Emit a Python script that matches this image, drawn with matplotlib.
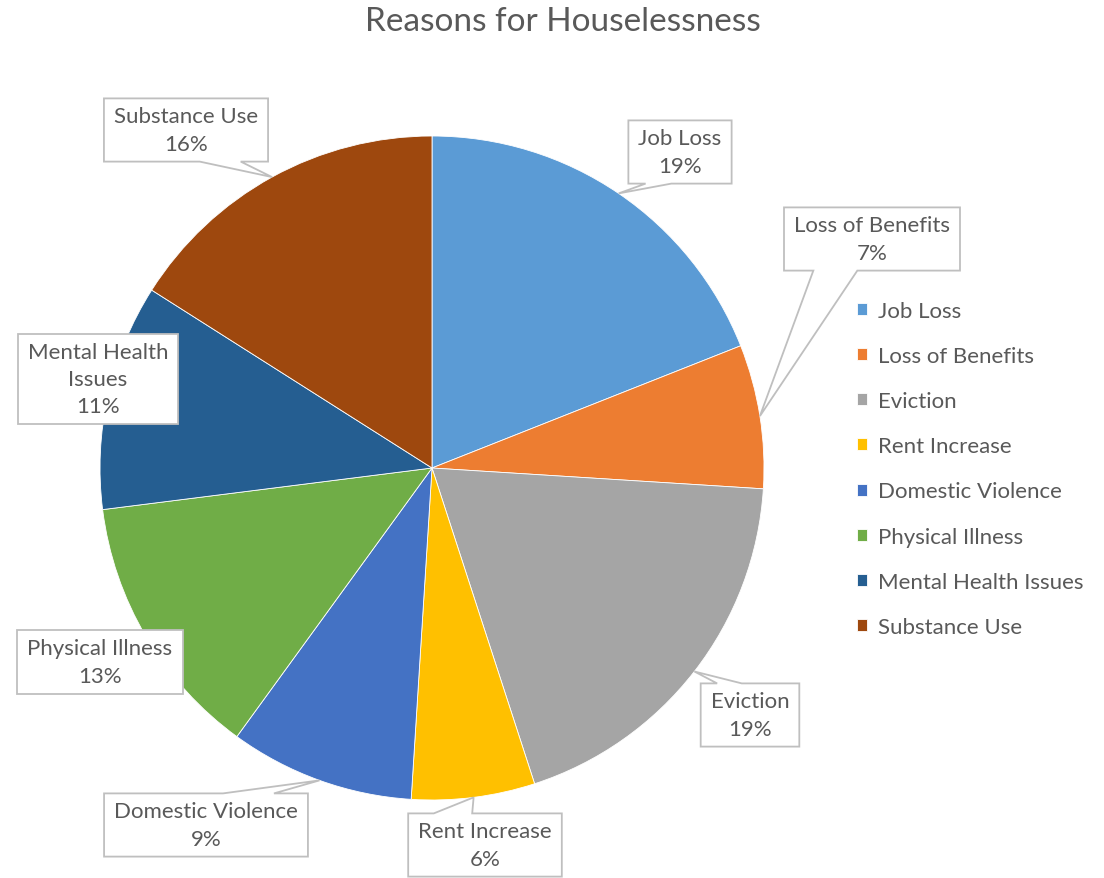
import matplotlib.pyplot as plt
from matplotlib.patches import Polygon
import numpy as np

plt.rcParams['font.family'] = ['Lato', 'DejaVu Sans']

# 数据
categories = ['Job Loss', 'Loss of Benefits', 'Eviction', 'Rent Increase',
              'Domestic Violence', 'Physical Illness', 'Mental Health Issues',
              'Substance Use']
shares = [19, 7, 19, 6, 9, 13, 11, 16]
colors = ['#5B9BD5', '#ED7D31', '#A5A5A5', '#FFC000',
          '#4472C4', '#70AD47', '#255E91', '#9E480E']
box_names = ['Job Loss', 'Loss of Benefits', 'Eviction', 'Rent Increase',
             'Domestic Violence', 'Physical Illness', 'Mental Health\nIssues',
             'Substance Use']

# 标签框中心（像素，y 向下）
box_centers = [(680, 153), (872, 240), (750, 716), (485, 846),
               (206, 826), (100, 663), (98, 380), (186, 131)]

W, H = 1104, 879
TXT = '#595959'
EDGE = '#BFBFBF'

fig = plt.figure(figsize=(W / 100, H / 100), dpi=100)
ax = fig.add_axes([0, 0, 1, 1])

cx, cy, R = 432, H - 469, 332
wedges, _ = ax.pie(shares, colors=colors, startangle=90, counterclock=False,
                   center=(cx, cy), radius=R,
                   wedgeprops=dict(edgecolor='white', linewidth=0.6))
ax.set_xlim(0, W)
ax.set_ylim(0, H)
ax.set_aspect('equal')
ax.axis('off')

ax.text(563, H - 22, 'Reasons for Houselessness', ha='center', va='center',
        fontsize=24, color=TXT)

# 标签文字
texts = []
for name, v, (bx, by) in zip(box_names, shares, box_centers):
    t = ax.text(bx, H - by, f'{name}\n{v}%', ha='center', va='center',
                fontsize=16, color=TXT, linespacing=1.45, zorder=5)
    texts.append(t)

fig.canvas.draw()
renderer = fig.canvas.get_renderer()
inv = ax.transData.inverted()


def callout_poly(x0, y0, x1, y1, tx, ty):
    w, h = x1 - x0, y1 - y0
    mx, my = (x0 + x1) / 2, (y0 + y1) / 2
    if x0 <= tx <= x1 and y0 <= ty <= y1:
        return [(x0, y0), (x1, y0), (x1, y1), (x0, y1)]
    dx, dy = (tx - mx) / w, (ty - my) / h
    if tx < mx:
        ha_, hb_ = x0 + w / 6, x0 + 5 * w / 12
    else:
        ha_, hb_ = x1 - 5 * w / 12, x1 - w / 6
    if ty > my:
        va_, vb_ = y1 - 5 * h / 12, y1 - h / 6
    else:
        va_, vb_ = y0 + h / 6, y0 + 5 * h / 12
    pts = [(x0, y0)]
    if abs(dx) < abs(dy) and dy < 0:
        pts += [(ha_, y0), (tx, ty), (hb_, y0)]
    pts.append((x1, y0))
    if abs(dx) >= abs(dy) and dx > 0:
        pts += [(x1, va_), (tx, ty), (x1, vb_)]
    pts.append((x1, y1))
    if abs(dx) < abs(dy) and dy > 0:
        pts += [(hb_, y1), (tx, ty), (ha_, y1)]
    pts.append((x0, y1))
    if abs(dx) >= abs(dy) and dx < 0:
        pts += [(x0, vb_), (tx, ty), (x0, va_)]
    return pts


pad_x, pad_y = 10, 8
for t, wdg in zip(texts, wedges):
    bb = t.get_window_extent(renderer)
    (x0, y0), (x1, y1) = inv.transform([(bb.x0, bb.y0), (bb.x1, bb.y1)])
    x0, x1, y0, y1 = x0 - pad_x, x1 + pad_x, y0 - pad_y, y1 + pad_y
    mid = np.deg2rad((wdg.theta1 + wdg.theta2) / 2)
    tx, ty = cx + R * np.cos(mid), cy + R * np.sin(mid)
    poly = Polygon(callout_poly(x0, y0, x1, y1, tx, ty), closed=True,
                   facecolor='white', edgecolor=EDGE, linewidth=1.3, zorder=4)
    ax.add_patch(poly)

leg = ax.legend(wedges, categories, loc='upper left',
                bbox_to_anchor=(857 / W, (H - 302) / H), frameon=False,
                fontsize=16, labelcolor=TXT, handlelength=0.45,
                handleheight=0.45, handletextpad=0.5, labelspacing=1.13,
                borderpad=0, borderaxespad=0)

fig.savefig('out.png', dpi=100)
